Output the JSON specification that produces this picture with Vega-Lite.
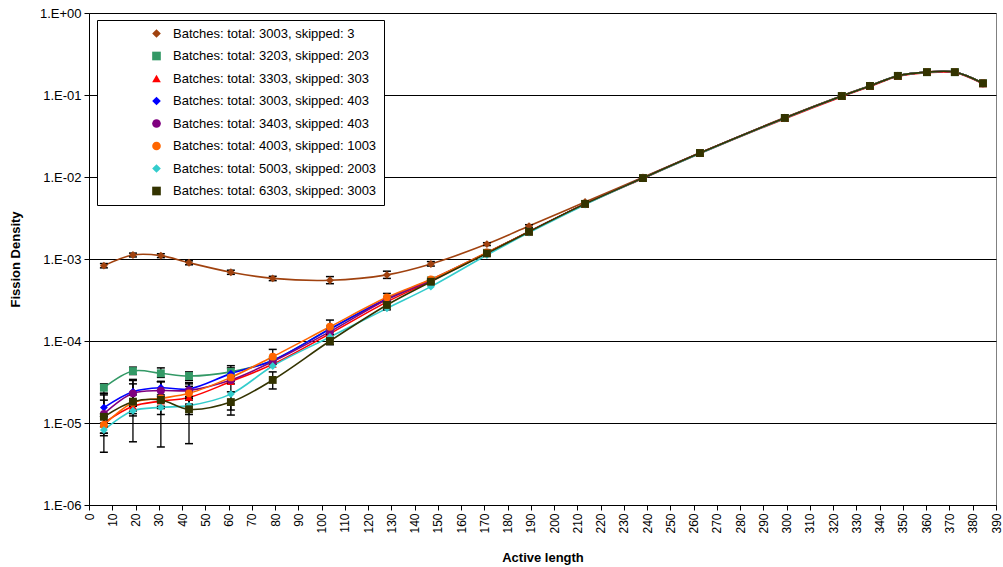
{
  "$schema": "https://vega.github.io/schema/vega-lite/v6.json",
  "width": 907,
  "height": 492,
  "autosize": {"type": "none"},
  "padding": {"left": 89, "top": 13, "right": 7, "bottom": 62},
  "background": "white",
  "config": {
    "font": "Liberation Sans",
    "view": {"stroke": "#808080", "strokeWidth": 1}
  },
  "data": {
    "values": [
      {"s": "Batches: total: 3003, skipped: 3", "x": 6.4, "y": 8.3e-4, "lo": 7.8e-4, "hi": 8.8e-4},
      {"s": "Batches: total: 3003, skipped: 3", "x": 18.9, "y": 1.12e-3, "lo": 1.06e-3, "hi": 1.18e-3},
      {"s": "Batches: total: 3003, skipped: 3", "x": 30.9, "y": 1.10e-3, "lo": 1.04e-3, "hi": 1.16e-3},
      {"s": "Batches: total: 3003, skipped: 3", "x": 43.0, "y": 9.0e-4, "lo": 8.5e-4, "hi": 9.5e-4},
      {"s": "Batches: total: 3003, skipped: 3", "x": 61.0, "y": 6.9e-4, "lo": 6.5e-4, "hi": 7.3e-4},
      {"s": "Batches: total: 3003, skipped: 3", "x": 79.0, "y": 5.8e-4, "lo": 5.45e-4, "hi": 6.15e-4},
      {"s": "Batches: total: 3003, skipped: 3", "x": 103.6, "y": 5.5e-4, "lo": 5.0e-4, "hi": 6.1e-4},
      {"s": "Batches: total: 3003, skipped: 3", "x": 128.1, "y": 6.4e-4, "lo": 5.8e-4, "hi": 7.1e-4},
      {"s": "Batches: total: 3003, skipped: 3", "x": 147.0, "y": 8.7e-4, "lo": 8.2e-4, "hi": 9.3e-4},
      {"s": "Batches: total: 3003, skipped: 3", "x": 171.1, "y": 1.52e-3, "lo": 1.46e-3, "hi": 1.58e-3},
      {"s": "Batches: total: 3003, skipped: 3", "x": 189.2, "y": 2.52e-3, "lo": 2.42e-3, "hi": 2.62e-3},
      {"s": "Batches: total: 3003, skipped: 3", "x": 213.3, "y": 4.95e-3},
      {"s": "Batches: total: 3003, skipped: 3", "x": 238.2, "y": 9.9e-3},
      {"s": "Batches: total: 3003, skipped: 3", "x": 262.7, "y": 1.97e-2},
      {"s": "Batches: total: 3003, skipped: 3", "x": 299.2, "y": 5.3e-2},
      {"s": "Batches: total: 3003, skipped: 3", "x": 323.7, "y": 9.8e-2},
      {"s": "Batches: total: 3003, skipped: 3", "x": 335.8, "y": 0.130},
      {"s": "Batches: total: 3003, skipped: 3", "x": 347.8, "y": 0.172},
      {"s": "Batches: total: 3003, skipped: 3", "x": 360.3, "y": 0.191},
      {"s": "Batches: total: 3003, skipped: 3", "x": 372.3, "y": 0.191},
      {"s": "Batches: total: 3003, skipped: 3", "x": 384.4, "y": 0.140},

      {"s": "Batches: total: 3203, skipped: 203", "x": 6.4, "y": 2.69e-5, "lo": 2.3e-5, "hi": 3.0e-5},
      {"s": "Batches: total: 3203, skipped: 203", "x": 18.9, "y": 4.3e-5, "lo": 3.9e-5, "hi": 4.8e-5},
      {"s": "Batches: total: 3203, skipped: 203", "x": 30.9, "y": 4.04e-5, "lo": 3.6e-5, "hi": 4.7e-5},
      {"s": "Batches: total: 3203, skipped: 203", "x": 43.0, "y": 3.74e-5, "lo": 3.3e-5, "hi": 4.2e-5},
      {"s": "Batches: total: 3203, skipped: 203", "x": 61.0, "y": 4.2e-5, "lo": 3.7e-5, "hi": 4.7e-5},
      {"s": "Batches: total: 3203, skipped: 203", "x": 79.0, "y": 5.8e-5},
      {"s": "Batches: total: 3203, skipped: 203", "x": 103.6, "y": 1.40e-4},
      {"s": "Batches: total: 3203, skipped: 203", "x": 128.1, "y": 3.2e-4},
      {"s": "Batches: total: 3203, skipped: 203", "x": 147.0, "y": 5.5e-4},
      {"s": "Batches: total: 3203, skipped: 203", "x": 171.1, "y": 1.19e-3},
      {"s": "Batches: total: 3203, skipped: 203", "x": 189.2, "y": 2.15e-3},
      {"s": "Batches: total: 3203, skipped: 203", "x": 213.3, "y": 4.7e-3},
      {"s": "Batches: total: 3203, skipped: 203", "x": 238.2, "y": 9.7e-3},
      {"s": "Batches: total: 3203, skipped: 203", "x": 262.7, "y": 1.96e-2},
      {"s": "Batches: total: 3203, skipped: 203", "x": 299.2, "y": 5.25e-2},
      {"s": "Batches: total: 3203, skipped: 203", "x": 323.7, "y": 9.72e-2},
      {"s": "Batches: total: 3203, skipped: 203", "x": 335.8, "y": 0.129},
      {"s": "Batches: total: 3203, skipped: 203", "x": 347.8, "y": 0.171},
      {"s": "Batches: total: 3203, skipped: 203", "x": 360.3, "y": 0.190},
      {"s": "Batches: total: 3203, skipped: 203", "x": 372.3, "y": 0.190},
      {"s": "Batches: total: 3203, skipped: 203", "x": 384.4, "y": 0.139},

      {"s": "Batches: total: 3303, skipped: 303", "x": 6.4, "y": 1.0e-5, "lo": 7.5e-6, "hi": 1.3e-5},
      {"s": "Batches: total: 3303, skipped: 303", "x": 18.9, "y": 1.6e-5, "lo": 1.3e-5, "hi": 1.9e-5},
      {"s": "Batches: total: 3303, skipped: 303", "x": 30.9, "y": 1.85e-5, "lo": 1.5e-5, "hi": 2.2e-5},
      {"s": "Batches: total: 3303, skipped: 303", "x": 43.0, "y": 2.05e-5, "lo": 1.7e-5, "hi": 2.4e-5},
      {"s": "Batches: total: 3303, skipped: 303", "x": 61.0, "y": 3.2e-5},
      {"s": "Batches: total: 3303, skipped: 303", "x": 79.0, "y": 5.2e-5},
      {"s": "Batches: total: 3303, skipped: 303", "x": 103.6, "y": 1.23e-4},
      {"s": "Batches: total: 3303, skipped: 303", "x": 128.1, "y": 3.0e-4},
      {"s": "Batches: total: 3303, skipped: 303", "x": 147.0, "y": 5.4e-4},
      {"s": "Batches: total: 3303, skipped: 303", "x": 171.1, "y": 1.18e-3},
      {"s": "Batches: total: 3303, skipped: 303", "x": 189.2, "y": 2.15e-3},
      {"s": "Batches: total: 3303, skipped: 303", "x": 213.3, "y": 4.65e-3},
      {"s": "Batches: total: 3303, skipped: 303", "x": 238.2, "y": 9.6e-3},
      {"s": "Batches: total: 3303, skipped: 303", "x": 262.7, "y": 1.93e-2},
      {"s": "Batches: total: 3303, skipped: 303", "x": 299.2, "y": 5.15e-2},
      {"s": "Batches: total: 3303, skipped: 303", "x": 323.7, "y": 9.55e-2},
      {"s": "Batches: total: 3303, skipped: 303", "x": 335.8, "y": 0.127},
      {"s": "Batches: total: 3303, skipped: 303", "x": 347.8, "y": 0.168},
      {"s": "Batches: total: 3303, skipped: 303", "x": 360.3, "y": 0.187},
      {"s": "Batches: total: 3303, skipped: 303", "x": 372.3, "y": 0.187},
      {"s": "Batches: total: 3303, skipped: 303", "x": 384.4, "y": 0.137},

      {"s": "Batches: total: 3003, skipped: 403", "x": 6.4, "y": 1.54e-5, "lo": 1.2e-5, "hi": 2.3e-5},
      {"s": "Batches: total: 3003, skipped: 403", "x": 18.9, "y": 2.41e-5, "lo": 1.7e-5, "hi": 3.4e-5},
      {"s": "Batches: total: 3003, skipped: 403", "x": 30.9, "y": 2.69e-5, "lo": 2.1e-5, "hi": 3.2e-5},
      {"s": "Batches: total: 3003, skipped: 403", "x": 43.0, "y": 2.6e-5, "lo": 2.1e-5, "hi": 3.1e-5},
      {"s": "Batches: total: 3003, skipped: 403", "x": 61.0, "y": 4.0e-5, "lo": 3.2e-5, "hi": 5.0e-5},
      {"s": "Batches: total: 3003, skipped: 403", "x": 79.0, "y": 5.8e-5},
      {"s": "Batches: total: 3003, skipped: 403", "x": 103.6, "y": 1.40e-4},
      {"s": "Batches: total: 3003, skipped: 403", "x": 128.1, "y": 3.3e-4},
      {"s": "Batches: total: 3003, skipped: 403", "x": 147.0, "y": 5.6e-4},
      {"s": "Batches: total: 3003, skipped: 403", "x": 171.1, "y": 1.19e-3},
      {"s": "Batches: total: 3003, skipped: 403", "x": 189.2, "y": 2.15e-3},
      {"s": "Batches: total: 3003, skipped: 403", "x": 213.3, "y": 4.7e-3},
      {"s": "Batches: total: 3003, skipped: 403", "x": 238.2, "y": 9.7e-3},
      {"s": "Batches: total: 3003, skipped: 403", "x": 262.7, "y": 1.96e-2},
      {"s": "Batches: total: 3003, skipped: 403", "x": 299.2, "y": 5.25e-2},
      {"s": "Batches: total: 3003, skipped: 403", "x": 323.7, "y": 9.72e-2},
      {"s": "Batches: total: 3003, skipped: 403", "x": 335.8, "y": 0.129},
      {"s": "Batches: total: 3003, skipped: 403", "x": 347.8, "y": 0.171},
      {"s": "Batches: total: 3003, skipped: 403", "x": 360.3, "y": 0.190},
      {"s": "Batches: total: 3003, skipped: 403", "x": 372.3, "y": 0.190},
      {"s": "Batches: total: 3003, skipped: 403", "x": 384.4, "y": 0.139},

      {"s": "Batches: total: 3403, skipped: 403", "x": 6.4, "y": 1.29e-5, "lo": 9.0e-6, "hi": 2.2e-5},
      {"s": "Batches: total: 3403, skipped: 403", "x": 18.9, "y": 2.3e-5, "lo": 1.6e-5, "hi": 3.3e-5},
      {"s": "Batches: total: 3403, skipped: 403", "x": 30.9, "y": 2.48e-5, "lo": 1.9e-5, "hi": 3.2e-5},
      {"s": "Batches: total: 3403, skipped: 403", "x": 43.0, "y": 2.5e-5, "lo": 2.0e-5, "hi": 3.0e-5},
      {"s": "Batches: total: 3403, skipped: 403", "x": 61.0, "y": 3.35e-5},
      {"s": "Batches: total: 3403, skipped: 403", "x": 79.0, "y": 5.6e-5},
      {"s": "Batches: total: 3403, skipped: 403", "x": 103.6, "y": 1.30e-4},
      {"s": "Batches: total: 3403, skipped: 403", "x": 128.1, "y": 3.2e-4},
      {"s": "Batches: total: 3403, skipped: 403", "x": 147.0, "y": 5.5e-4},
      {"s": "Batches: total: 3403, skipped: 403", "x": 171.1, "y": 1.19e-3},
      {"s": "Batches: total: 3403, skipped: 403", "x": 189.2, "y": 2.15e-3},
      {"s": "Batches: total: 3403, skipped: 403", "x": 213.3, "y": 4.7e-3},
      {"s": "Batches: total: 3403, skipped: 403", "x": 238.2, "y": 9.7e-3},
      {"s": "Batches: total: 3403, skipped: 403", "x": 262.7, "y": 1.96e-2},
      {"s": "Batches: total: 3403, skipped: 403", "x": 299.2, "y": 5.25e-2},
      {"s": "Batches: total: 3403, skipped: 403", "x": 323.7, "y": 9.72e-2},
      {"s": "Batches: total: 3403, skipped: 403", "x": 335.8, "y": 0.129},
      {"s": "Batches: total: 3403, skipped: 403", "x": 347.8, "y": 0.171},
      {"s": "Batches: total: 3403, skipped: 403", "x": 360.3, "y": 0.190},
      {"s": "Batches: total: 3403, skipped: 403", "x": 372.3, "y": 0.190},
      {"s": "Batches: total: 3403, skipped: 403", "x": 384.4, "y": 0.139},

      {"s": "Batches: total: 4003, skipped: 1003", "x": 6.4, "y": 9.45e-6, "lo": 7.5e-6, "hi": 1.2e-5},
      {"s": "Batches: total: 4003, skipped: 1003", "x": 18.9, "y": 1.77e-5, "lo": 1.4e-5, "hi": 2.2e-5},
      {"s": "Batches: total: 4003, skipped: 1003", "x": 30.9, "y": 2.0e-5, "lo": 1.6e-5, "hi": 2.5e-5},
      {"s": "Batches: total: 4003, skipped: 1003", "x": 43.0, "y": 2.3e-5, "lo": 1.9e-5, "hi": 2.8e-5},
      {"s": "Batches: total: 4003, skipped: 1003", "x": 61.0, "y": 3.6e-5},
      {"s": "Batches: total: 4003, skipped: 1003", "x": 79.0, "y": 6.44e-5, "lo": 5.2e-5, "hi": 7.9e-5},
      {"s": "Batches: total: 4003, skipped: 1003", "x": 103.6, "y": 1.49e-4, "lo": 1.2e-4, "hi": 1.8e-4},
      {"s": "Batches: total: 4003, skipped: 1003", "x": 128.1, "y": 3.41e-4, "lo": 3.0e-4, "hi": 3.8e-4},
      {"s": "Batches: total: 4003, skipped: 1003", "x": 147.0, "y": 5.65e-4},
      {"s": "Batches: total: 4003, skipped: 1003", "x": 171.1, "y": 1.2e-3},
      {"s": "Batches: total: 4003, skipped: 1003", "x": 189.2, "y": 2.16e-3},
      {"s": "Batches: total: 4003, skipped: 1003", "x": 213.3, "y": 4.7e-3},
      {"s": "Batches: total: 4003, skipped: 1003", "x": 238.2, "y": 9.7e-3},
      {"s": "Batches: total: 4003, skipped: 1003", "x": 262.7, "y": 1.96e-2},
      {"s": "Batches: total: 4003, skipped: 1003", "x": 299.2, "y": 5.25e-2},
      {"s": "Batches: total: 4003, skipped: 1003", "x": 323.7, "y": 9.72e-2},
      {"s": "Batches: total: 4003, skipped: 1003", "x": 335.8, "y": 0.129},
      {"s": "Batches: total: 4003, skipped: 1003", "x": 347.8, "y": 0.171},
      {"s": "Batches: total: 4003, skipped: 1003", "x": 360.3, "y": 0.190},
      {"s": "Batches: total: 4003, skipped: 1003", "x": 372.3, "y": 0.190},
      {"s": "Batches: total: 4003, skipped: 1003", "x": 384.4, "y": 0.139},

      {"s": "Batches: total: 5003, skipped: 2003", "x": 6.4, "y": 8.2e-6, "lo": 7.0e-6, "hi": 1.0e-5},
      {"s": "Batches: total: 5003, skipped: 2003", "x": 18.9, "y": 1.41e-5, "lo": 1.22e-5, "hi": 1.6e-5},
      {"s": "Batches: total: 5003, skipped: 2003", "x": 30.9, "y": 1.55e-5, "lo": 1.27e-5, "hi": 1.8e-5},
      {"s": "Batches: total: 5003, skipped: 2003", "x": 43.0, "y": 1.63e-5, "lo": 1.27e-5, "hi": 2.0e-5},
      {"s": "Batches: total: 5003, skipped: 2003", "x": 61.0, "y": 2.25e-5, "lo": 1.44e-5, "hi": 3.0e-5},
      {"s": "Batches: total: 5003, skipped: 2003", "x": 79.0, "y": 4.96e-5},
      {"s": "Batches: total: 5003, skipped: 2003", "x": 103.6, "y": 1.12e-4},
      {"s": "Batches: total: 5003, skipped: 2003", "x": 128.1, "y": 2.5e-4},
      {"s": "Batches: total: 5003, skipped: 2003", "x": 147.0, "y": 4.6e-4},
      {"s": "Batches: total: 5003, skipped: 2003", "x": 171.1, "y": 1.12e-3},
      {"s": "Batches: total: 5003, skipped: 2003", "x": 189.2, "y": 2.1e-3},
      {"s": "Batches: total: 5003, skipped: 2003", "x": 213.3, "y": 4.6e-3},
      {"s": "Batches: total: 5003, skipped: 2003", "x": 238.2, "y": 9.65e-3},
      {"s": "Batches: total: 5003, skipped: 2003", "x": 262.7, "y": 1.94e-2},
      {"s": "Batches: total: 5003, skipped: 2003", "x": 299.2, "y": 5.2e-2},
      {"s": "Batches: total: 5003, skipped: 2003", "x": 323.7, "y": 9.7e-2},
      {"s": "Batches: total: 5003, skipped: 2003", "x": 335.8, "y": 0.129},
      {"s": "Batches: total: 5003, skipped: 2003", "x": 347.8, "y": 0.171},
      {"s": "Batches: total: 5003, skipped: 2003", "x": 360.3, "y": 0.190},
      {"s": "Batches: total: 5003, skipped: 2003", "x": 372.3, "y": 0.190},
      {"s": "Batches: total: 5003, skipped: 2003", "x": 384.4, "y": 0.139},

      {"s": "Batches: total: 6303, skipped: 3003", "x": 6.4, "y": 1.19e-5, "lo": 4.4e-6, "hi": 1.9e-5},
      {"s": "Batches: total: 6303, skipped: 3003", "x": 18.9, "y": 1.82e-5, "lo": 5.9e-6, "hi": 3.0e-5},
      {"s": "Batches: total: 6303, skipped: 3003", "x": 30.9, "y": 1.91e-5, "lo": 5.1e-6, "hi": 3.2e-5},
      {"s": "Batches: total: 6303, skipped: 3003", "x": 43.0, "y": 1.47e-5, "lo": 5.6e-6, "hi": 2.4e-5},
      {"s": "Batches: total: 6303, skipped: 3003", "x": 61.0, "y": 1.8e-5, "lo": 1.25e-5, "hi": 2.4e-5},
      {"s": "Batches: total: 6303, skipped: 3003", "x": 79.0, "y": 3.35e-5, "lo": 2.6e-5, "hi": 4.2e-5},
      {"s": "Batches: total: 6303, skipped: 3003", "x": 103.6, "y": 1.0e-4, "lo": 9.0e-5, "hi": 1.1e-4},
      {"s": "Batches: total: 6303, skipped: 3003", "x": 128.1, "y": 2.75e-4, "lo": 2.4e-4, "hi": 3.1e-4},
      {"s": "Batches: total: 6303, skipped: 3003", "x": 147.0, "y": 5.28e-4},
      {"s": "Batches: total: 6303, skipped: 3003", "x": 171.1, "y": 1.17e-3},
      {"s": "Batches: total: 6303, skipped: 3003", "x": 189.2, "y": 2.15e-3},
      {"s": "Batches: total: 6303, skipped: 3003", "x": 213.3, "y": 4.7e-3},
      {"s": "Batches: total: 6303, skipped: 3003", "x": 238.2, "y": 9.7e-3},
      {"s": "Batches: total: 6303, skipped: 3003", "x": 262.7, "y": 1.96e-2},
      {"s": "Batches: total: 6303, skipped: 3003", "x": 299.2, "y": 5.25e-2},
      {"s": "Batches: total: 6303, skipped: 3003", "x": 323.7, "y": 9.72e-2},
      {"s": "Batches: total: 6303, skipped: 3003", "x": 335.8, "y": 0.129},
      {"s": "Batches: total: 6303, skipped: 3003", "x": 347.8, "y": 0.171},
      {"s": "Batches: total: 6303, skipped: 3003", "x": 360.3, "y": 0.190},
      {"s": "Batches: total: 6303, skipped: 3003", "x": 372.3, "y": 0.190},
      {"s": "Batches: total: 6303, skipped: 3003", "x": 384.4, "y": 0.139}
    ]
  },
  "encoding": {
    "x": {
      "field": "x", "type": "quantitative",
      "scale": {"domain": [0, 390], "nice": false, "zero": false},
      "axis": {
        "title": "Active length",
        "values": [0,10,20,30,40,50,60,70,80,90,100,110,120,130,140,150,160,170,180,190,200,210,220,230,240,250,260,270,280,290,300,310,320,330,340,350,360,370,380,390],
        "labelAngle": 270, "labelAlign": "right", "labelBaseline": "middle",
        "labelFontSize": 12, "labelColor": "black", "labelPadding": 3,
        "tickColor": "black", "tickSize": 5, "domainColor": "black",
        "grid": false, "titleFontSize": 13, "titleFontWeight": "bold",
        "titleColor": "black", "titlePadding": 18, "labelOverlap": false
      }
    },
    "y": {
      "field": "y", "type": "quantitative",
      "scale": {"type": "log", "domain": [1e-6, 1], "nice": false},
      "axis": {
        "title": "Fission Density",
        "values": [1e-6, 1e-5, 1e-4, 1e-3, 1e-2, 1e-1, 1],
        "labelExpr": "'1.E' + (round(log(datum.value)/LN10) >= 0 ? '+' : '-') + (abs(round(log(datum.value)/LN10)) < 10 ? '0' : '') + abs(round(log(datum.value)/LN10))",
        "labelFontSize": 13, "labelColor": "black", "labelPadding": 3,
        "tickColor": "black", "tickSize": 5, "domainColor": "black",
        "grid": true, "gridColor": "black", "gridOpacity": 1, "gridWidth": 1,
        "titleFontSize": 13, "titleFontWeight": "bold", "titleColor": "black",
        "titlePadding": 17
      }
    }
  },
  "layer": [
    {
      "mark": {"type": "line", "interpolate": "catmull-rom", "strokeWidth": 1.6},
      "encoding": {
        "color": {
          "field": "s", "type": "nominal",
          "scale": {
            "domain": ["Batches: total: 3003, skipped: 3", "Batches: total: 3203, skipped: 203", "Batches: total: 3303, skipped: 303", "Batches: total: 3003, skipped: 403", "Batches: total: 3403, skipped: 403", "Batches: total: 4003, skipped: 1003", "Batches: total: 5003, skipped: 2003", "Batches: total: 6303, skipped: 3003"],
            "range": ["#A0420F", "#339966", "#FF0000", "#0000FF", "#800080", "#FF6600", "#33CCCC", "#333300"]
          },
          "legend": {
            "title": null, "orient": "none", "legendX": 8, "legendY": 7,
            "fillColor": "white", "strokeColor": "black", "padding": 7,
            "labelFontSize": 13, "labelColor": "black", "rowPadding": 8.5,
            "symbolOffset": 46, "labelOffset": 10, "symbolSize": 75,
            "symbolStrokeWidth": 0, "labelLimit": 400
          }
        },
        "order": {"field": "x", "type": "quantitative"}
      }
    },
    {
      "transform": [{"filter": "isValid(datum.lo)"}],
      "layer": [
        {
          "mark": {"type": "rule", "color": "black", "strokeWidth": 1.3},
          "encoding": {"y": {"field": "lo", "type": "quantitative"}, "y2": {"field": "hi"}}
        },
        {
          "mark": {"type": "tick", "orient": "horizontal", "color": "black", "size": 8, "thickness": 1.5, "opacity": 1},
          "encoding": {"y": {"field": "lo", "type": "quantitative"}}
        },
        {
          "mark": {"type": "tick", "orient": "horizontal", "color": "black", "size": 8, "thickness": 1.5, "opacity": 1},
          "encoding": {"y": {"field": "hi", "type": "quantitative"}}
        }
      ]
    },
    {
      "mark": {"type": "point", "filled": true, "size": 62, "opacity": 1},
      "encoding": {
        "color": {
          "field": "s", "type": "nominal",
          "legend": {
            "title": null, "orient": "none", "legendX": 8, "legendY": 7,
            "fillColor": "white", "strokeColor": "black", "padding": 7,
            "labelFontSize": 13, "labelColor": "black", "rowPadding": 8.5,
            "symbolOffset": 46, "labelOffset": 10, "symbolSize": 75,
            "symbolStrokeWidth": 0, "labelLimit": 400
          }
        },
        "shape": {
          "field": "s", "type": "nominal",
          "scale": {
            "domain": ["Batches: total: 3003, skipped: 3", "Batches: total: 3203, skipped: 203", "Batches: total: 3303, skipped: 303", "Batches: total: 3003, skipped: 403", "Batches: total: 3403, skipped: 403", "Batches: total: 4003, skipped: 1003", "Batches: total: 5003, skipped: 2003", "Batches: total: 6303, skipped: 3003"],
            "range": ["diamond", "square", "triangle-up", "diamond", "circle", "circle", "diamond", "square"]
          },
          "legend": {
            "title": null, "orient": "none", "legendX": 8, "legendY": 7,
            "fillColor": "white", "strokeColor": "black", "padding": 7,
            "labelFontSize": 13, "labelColor": "black", "rowPadding": 8.5,
            "symbolOffset": 46, "labelOffset": 10, "symbolSize": 75,
            "symbolStrokeWidth": 0, "labelLimit": 400
          }
        }
      }
    }
  ]
}
